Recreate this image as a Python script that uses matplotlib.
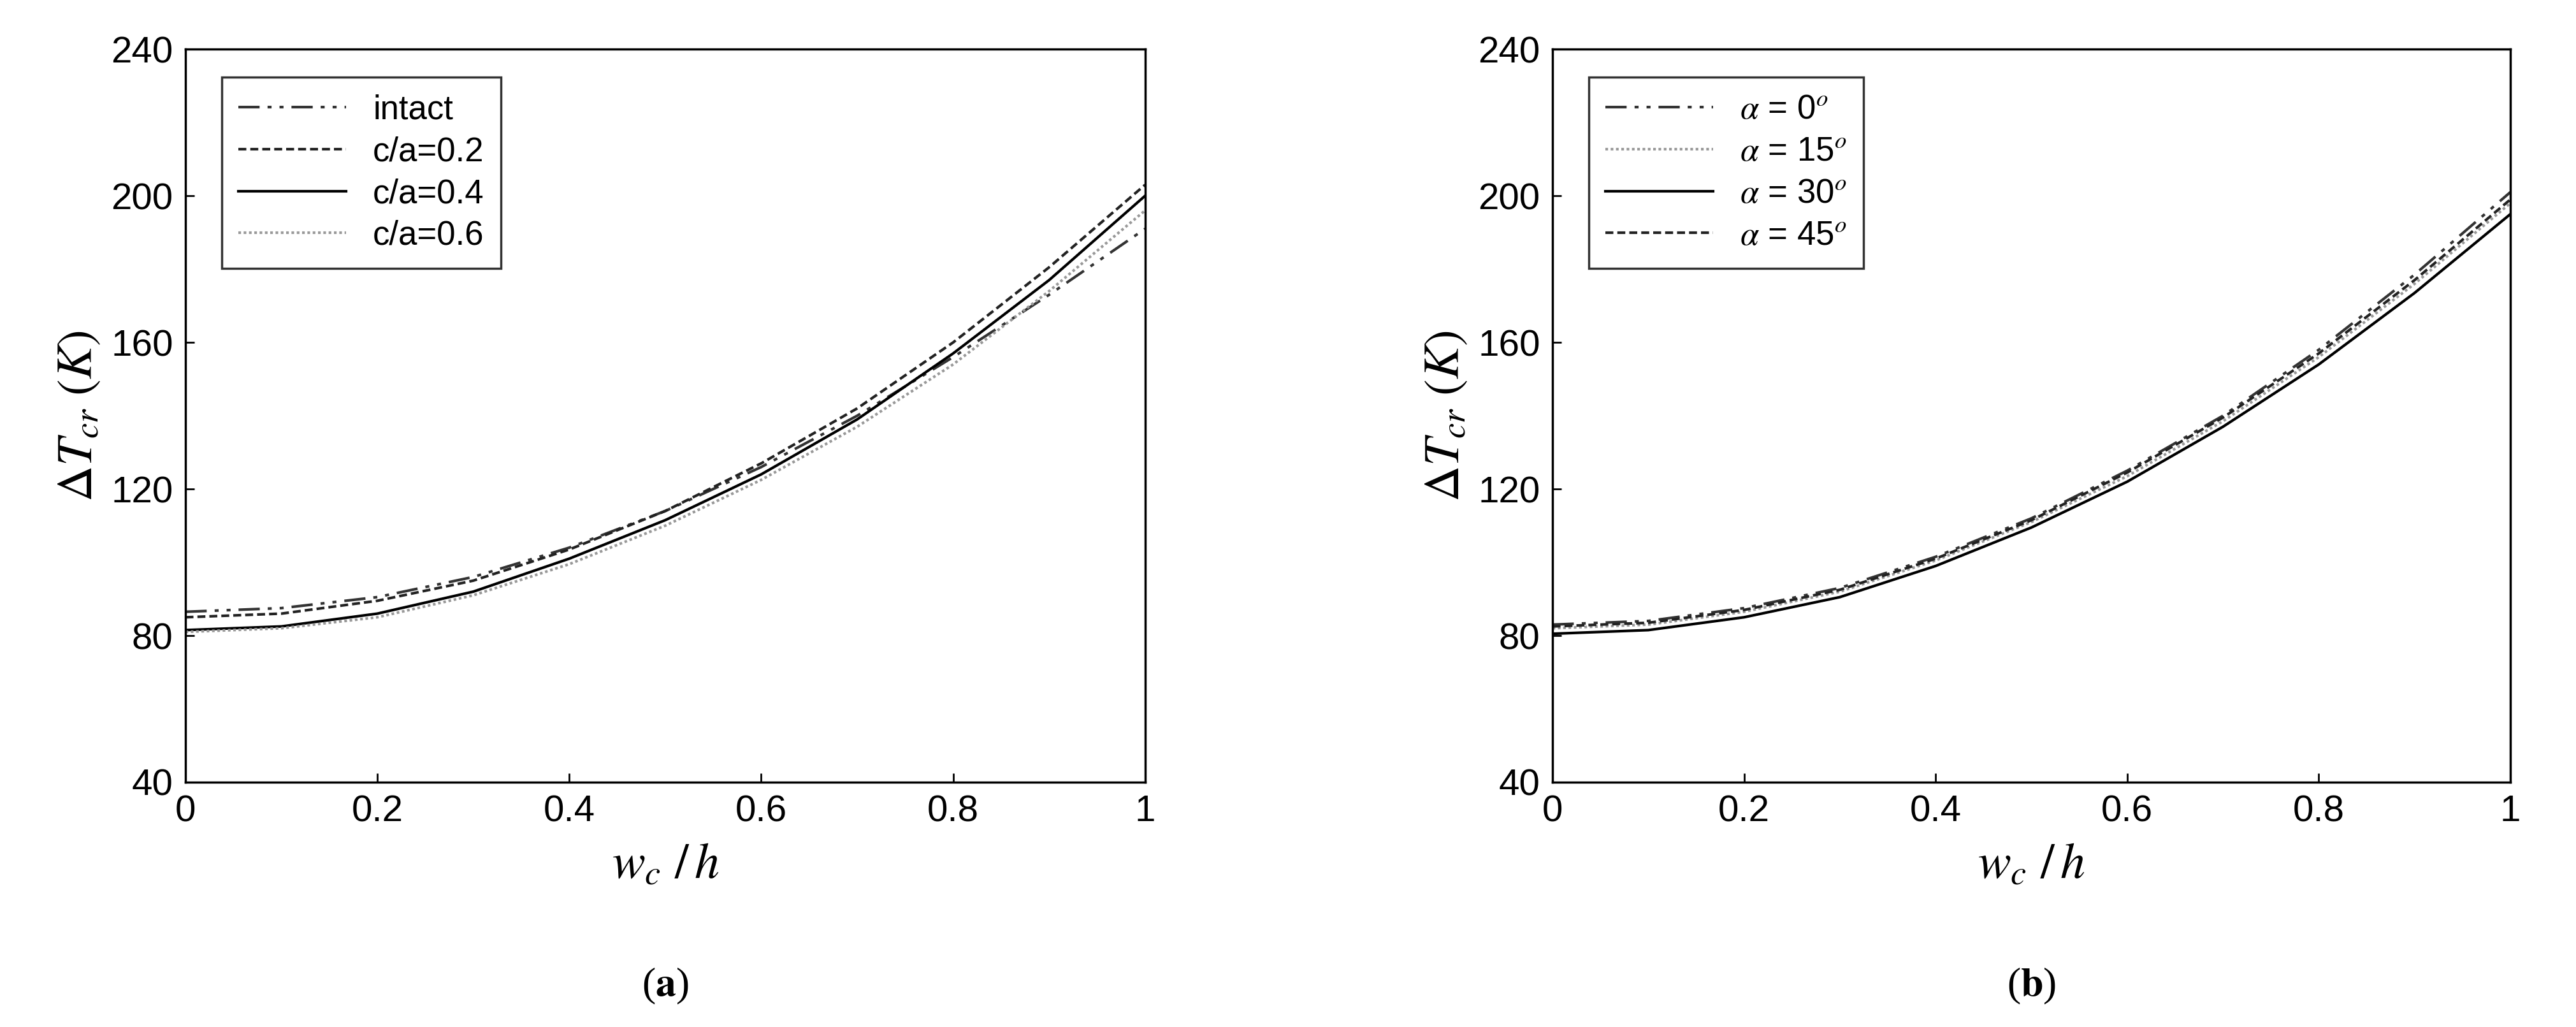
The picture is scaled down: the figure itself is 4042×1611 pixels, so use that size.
import matplotlib
matplotlib.use("Agg")
import matplotlib.pyplot as plt

x = [0, 0.1, 0.2, 0.3, 0.4, 0.5, 0.6, 0.7, 0.8, 0.9, 1.0]
intact = [86.5, 87.5, 90.5, 96, 104, 114, 126, 140, 156, 173, 191]
ca02 = [85, 86, 89.5, 95, 103.5, 114, 127, 142, 160, 180.5, 203]
ca04 = [81.5, 82.5, 86, 92, 101, 111.5, 124, 139, 157, 177, 200]
ca06 = [81, 82, 85, 91, 99.5, 110, 122.5, 137, 154, 174, 196]
a0 = [83, 84, 87.5, 93, 101.5, 112, 125, 140, 158, 178.5, 201]
a15 = [82, 83, 86.5, 92, 100.5, 111, 123.5, 138.5, 156, 176, 198]
a30 = [80.5, 81.5, 85, 90.5, 99, 109.5, 122, 137, 154, 173.5, 195]
a45 = [82.5, 83.5, 87, 92.5, 101, 111.5, 124.5, 139.5, 157, 177, 199]
xticks = [0, 0.2, 0.4, 0.6, 0.8, 1]
xticklabels = ["0", "0.2", "0.4", "0.6", "0.8", "1"]
yticks = [40, 80, 120, 160, 200, 240]

plt.rcParams['font.family'] = ['Liberation Sans', 'DejaVu Sans']
plt.rcParams['mathtext.fontset'] = 'stix'
fig = plt.figure(figsize=(40.42, 16.11), dpi=100)
axl = fig.add_axes([0.072, 0.2384, 0.3725, 0.7136])
axr = fig.add_axes([0.6027, 0.2384, 0.3718, 0.7136])

lw = 3
dashdot = (0, (8, 3, 1.5, 3, 1.5, 3))
axl.plot(x, intact, color='#333333', lw=lw, ls=dashdot, label='intact')
axl.plot(x, ca02, color='#222222', lw=lw, ls=(0, (3, 1.5)), label='c/a=0.2')
axl.plot(x, ca04, color='black', lw=lw, ls='-', label='c/a=0.4')
axl.plot(x, ca06, color='#999999', lw=lw, ls=(0, (1, 1)), label='c/a=0.6')

axr.plot(x, a0, color='#333333', lw=lw, ls=dashdot, label=r'$\alpha$ = 0$^o$')
axr.plot(x, a15, color='#999999', lw=lw, ls=(0, (1, 1)), label=r'$\alpha$ = 15$^o$')
axr.plot(x, a30, color='black', lw=lw, ls='-', label=r'$\alpha$ = 30$^o$')
axr.plot(x, a45, color='#222222', lw=lw, ls=(0, (3, 1.5)), label=r'$\alpha$ = 45$^o$')

for ax, lab in [(axl, 'a'), (axr, 'b')]:
    ax.set_xlim(0, 1)
    ax.set_ylim(40, 240)
    ax.set_xticks(xticks)
    ax.set_xticklabels(xticklabels)
    ax.set_yticks(yticks)
    ax.tick_params(labelsize=42, length=10, width=2, direction='in', pad=14)
    for s in ax.spines.values():
        s.set_linewidth(2.5)
    ax.set_xlabel(r'$w_c\ /\,h$', fontsize=56, labelpad=14)
    ax.set_ylabel(r'$\Delta T_{cr}\ (K)$', fontsize=56, labelpad=10)
    leg = ax.legend(loc='upper left', bbox_to_anchor=(0.02, 0.985), fontsize=38,
                    frameon=True, fancybox=False, edgecolor='black', handlelength=3.2,
                    labelspacing=0.3, borderpad=0.5)
    leg.get_frame().set_linewidth(2.5)
    cx = (ax.get_position().x0 + ax.get_position().x1) / 2
    fig.text(cx, 0.04, r'($\mathbf{' + lab + r'}$)', ha='center', va='center', fontsize=46,
             family=['Liberation Serif', 'DejaVu Serif'])
fig.savefig('out.png', dpi=100)
